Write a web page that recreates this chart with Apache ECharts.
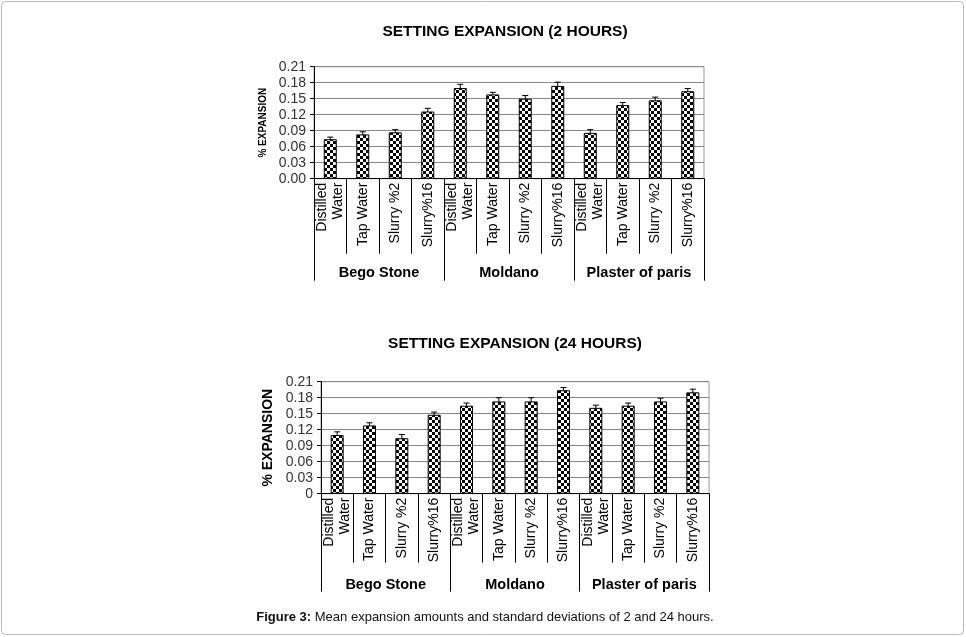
<!DOCTYPE html>
<html><head><meta charset="utf-8">
<script src="https://cdn.jsdelivr.net/npm/echarts@6/dist/echarts.min.js"></script>
<style>html,body{margin:0;padding:0;background:#fff}#c{width:966px;height:637px}</style>
</head><body><div id="c"></div>
<script>
const materials = ['Bego Stone', 'Moldano', 'Plaster of paris'];
const solutions = ['Distilled\nWater', 'Tap Water', 'Slurry %2', 'Slurry%16'];
const mean2h = [0.074, 0.083, 0.087, 0.126, 0.170, 0.158, 0.150, 0.174, 0.086, 0.138, 0.147, 0.164];
const sd2h   = [0.004, 0.005, 0.005, 0.006, 0.007, 0.004, 0.006, 0.007, 0.006, 0.005, 0.006, 0.005];
const mean24h = [0.110, 0.128, 0.104, 0.148, 0.165, 0.173, 0.173, 0.194, 0.161, 0.165, 0.173, 0.190];
const sd24h   = [0.006, 0.005, 0.007, 0.005, 0.005, 0.007, 0.007, 0.005, 0.005, 0.005, 0.006, 0.006];

const categories = [];
materials.forEach(() => solutions.forEach(s => categories.push(s)));

const FONT = '"Liberation Sans", Arial, sans-serif';

// checkerboard pattern
const pc = document.createElement('canvas');
pc.width = 6; pc.height = 6;
const g = pc.getContext('2d');
g.fillStyle = '#fff'; g.fillRect(0, 0, 6, 6);
g.fillStyle = '#000'; g.fillRect(0, 0, 3, 3); g.fillRect(3, 3, 3, 3);
const checker = { image: pc, repeat: 'repeat' };

const grids = [
  { left: 314, top: 66.7, right: 262, height: 112, show: true, borderColor: '#999', borderWidth: 1 },
  { left: 321, top: 381.7, right: 257, height: 112, show: true, borderColor: '#999', borderWidth: 1 }
];

function makeAxes(gi, catTick, grpTick, grpMargin) {
  return [
    { type: 'category', gridIndex: gi, data: categories, position: 'bottom', boundaryGap: true,
      axisLine: { show: true, lineStyle: { color: '#000', width: 1 } },
      axisTick: { show: true, interval: 0, alignWithLabel: false, length: catTick, lineStyle: { color: '#000', width: 1 } },
      axisLabel: { interval: 0, rotate: 90, margin: 4, color: '#000', fontSize: 14, fontFamily: FONT, lineHeight: 16 } },
    { type: 'category', gridIndex: gi, data: materials, position: 'bottom', boundaryGap: true,
      axisLine: { show: false },
      axisTick: { show: true, interval: 0, alignWithLabel: false, length: grpTick, lineStyle: { color: '#000', width: 1 } },
      axisLabel: { interval: 0, margin: grpMargin, color: '#000', fontSize: 14.5, fontWeight: 'bold', fontFamily: FONT } }
  ];
}

const xAxis = [].concat(makeAxes(0, 75, 102, 87), makeAxes(1, 69, 98, 84));
const yAxis = [
  { type: 'value', gridIndex: 0, min: 0, max: 0.21, interval: 0.03,
    name: '% EXPANSION', nameLocation: 'middle', nameGap: 46,
    nameTextStyle: { fontSize: 10, fontWeight: 'bold', color: '#000', fontFamily: FONT },
    axisLine: { show: true, lineStyle: { color: '#000' } },
    axisTick: { show: true, length: 4, lineStyle: { color: '#000' } },
    axisLabel: { margin: 8, color: '#333', fontSize: 14, fontFamily: FONT, formatter: v => v.toFixed(2) },
    splitLine: { lineStyle: { color: '#888', width: 1 } } },
  { type: 'value', gridIndex: 1, min: 0, max: 0.21, interval: 0.03,
    name: '% EXPANSION', nameLocation: 'middle', nameGap: 46,
    nameTextStyle: { fontSize: 14, fontWeight: 'bold', color: '#000', fontFamily: FONT },
    axisLine: { show: true, lineStyle: { color: '#000' } },
    axisTick: { show: true, length: 4, lineStyle: { color: '#000' } },
    axisLabel: { margin: 8, color: '#333', fontSize: 14, fontFamily: FONT, formatter: v => v === 0 ? '0' : v.toFixed(2) },
    splitLine: { lineStyle: { color: '#888', width: 1 } } }
];

function errSeries(xi, yi, means, sds) {
  return {
    type: 'custom', xAxisIndex: xi, yAxisIndex: yi, z: 1, silent: true,
    data: means.map((m, i) => [i, m, sds[i]]),
    renderItem: function (params, api) {
      const i = api.value(0), m = api.value(1), s = api.value(2);
      const hi = api.coord([i, m + s]);
      const lo = api.coord([i, m - s]);
      const w = 3;
      return { type: 'group', children: [
        { type: 'line', shape: { x1: hi[0], y1: hi[1], x2: lo[0], y2: lo[1] }, style: { stroke: '#000', lineWidth: 1 } },
        { type: 'line', shape: { x1: hi[0] - w, y1: hi[1], x2: hi[0] + w, y2: hi[1] }, style: { stroke: '#000', lineWidth: 1 } },
        { type: 'line', shape: { x1: lo[0] - w, y1: lo[1], x2: lo[0] + w, y2: lo[1] }, style: { stroke: '#000', lineWidth: 1 } }
      ] };
    }
  };
}

function barSeries(xi, yi, means) {
  return { type: 'bar', xAxisIndex: xi, yAxisIndex: yi, z: 2, data: means, barWidth: 13,
    itemStyle: { color: checker, borderColor: '#000', borderWidth: 1 }, silent: true };
}

const option = {
  animation: false,
  backgroundColor: '#fff',
  title: [
    { text: 'SETTING EXPANSION (2 HOURS)', left: 500, top: 19, textAlign: 'center',
      textStyle: { fontSize: 15.5, fontWeight: 'bold', color: '#000', fontFamily: FONT } },
    { text: 'SETTING EXPANSION (24 HOURS)', left: 510, top: 331, textAlign: 'center',
      textStyle: { fontSize: 15.5, fontWeight: 'bold', color: '#000', fontFamily: FONT } },
    { text: '{b|Figure 3:} Mean expansion amounts and standard deviations of 2 and 24 hours.', left: 480, top: 606, textAlign: 'center',
      textStyle: { fontSize: 13, fontWeight: 'normal', color: '#111', fontFamily: FONT,
        rich: { b: { fontSize: 13, fontWeight: 'bold', color: '#111', fontFamily: FONT } } } }
  ],
  graphic: [
    { type: 'rect', shape: { x: 1.5, y: 1.5, width: 962, height: 633, r: 4 }, style: { fill: 'none', stroke: '#bbb', lineWidth: 1 }, z: -1 }
  ],
  grid: grids,
  xAxis: xAxis,
  yAxis: yAxis,
  series: [
    errSeries(0, 0, mean2h, sd2h),
    barSeries(0, 0, mean2h),
    errSeries(2, 1, mean24h, sd24h),
    barSeries(2, 1, mean24h)
  ]
};

const chart = echarts.init(document.getElementById('c'), null, { renderer: 'canvas' });
chart.setOption(option);
</script></body></html>
